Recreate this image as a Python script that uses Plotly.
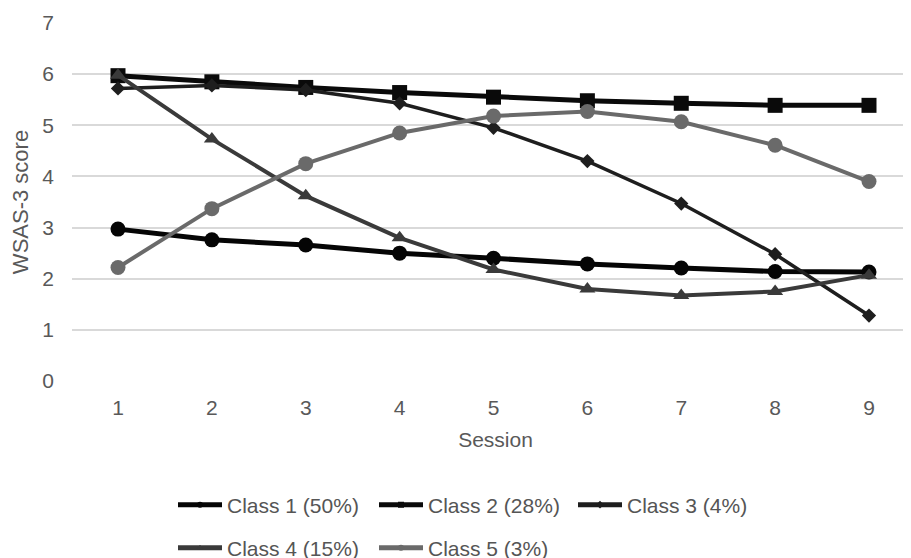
import plotly.graph_objects as go

sessions = [1, 2, 3, 4, 5, 6, 7, 8, 9]
class1 = [2.97, 2.76, 2.66, 2.50, 2.40, 2.29, 2.21, 2.14, 2.13]
class2 = [5.97, 5.85, 5.74, 5.64, 5.55, 5.48, 5.43, 5.39, 5.39]
class3 = [5.72, 5.78, 5.69, 5.43, 4.95, 4.30, 3.47, 2.48, 1.28]
class4 = [5.98, 4.73, 3.62, 2.80, 2.18, 1.80, 1.67, 1.75, 2.07]
class5 = [2.22, 3.37, 4.25, 4.85, 5.18, 5.27, 5.07, 4.61, 3.90]
names = ["Class 1 (50%)", "Class 2 (28%)", "Class 3 (4%)", "Class 4 (15%)", "Class 5 (3%)"]

styles = [
    dict(color="#050505", width=5, symbol="circle", size=15),
    dict(color="#0a0a0a", width=5, symbol="square", size=15),
    dict(color="#1e1e1e", width=3.5, symbol="diamond", size=11),
    dict(color="#3a3a3a", width=4, symbol="triangle-up", size=14),
    dict(color="#6a6a6a", width=4, symbol="circle", size=15),
]

# page has an 8px body margin: work in screen pixels and subtract it
OFF = 8
# legend line start (screen px) and row centre
leg_pos = [(165, 505), (366, 505), (565, 505), (165, 548), (366, 548)]

W, H = 911, 558
L = 72 - OFF
T = 23 - OFF
plot_bottom = 381 - OFF
B = H - plot_bottom
R = 0
pw, ph = W - L - R, H - T - B

font = "Liberation Sans, Arial, sans-serif"
fig = go.Figure()
layout_legends = {}
for data, name, st in zip([class1, class2, class3, class4, class5], names, styles):
    fig.add_trace(go.Scatter(
        x=sessions, y=data, name=name, mode="lines+markers",
        line=dict(color=st["color"], width=st["width"]),
        marker=dict(symbol=st["symbol"], size=st["size"], color=st["color"]),
        showlegend=False,
    ))
for i, (name, st) in enumerate(zip(names, styles)):
    lg = "legend" if i == 0 else f"legend{i + 1}"
    fig.add_trace(go.Scatter(
        x=[None], y=[None], name=name, mode="lines+markers",
        line=dict(color=st["color"], width=5),
        marker=dict(symbol=st["symbol"], size=6, color=st["color"]),
        legend=lg, showlegend=True, hoverinfo="skip",
    ))
    px, py = leg_pos[i]
    px -= OFF
    py -= OFF
    layout_legends[lg] = dict(
        x=(px + 8 - L) / pw, y=-(py - plot_bottom) / ph,
        xanchor="left", yanchor="middle", orientation="h",
        font=dict(family=font, size=21, color="#555555"),
        itemwidth=44, bgcolor="rgba(0,0,0,0)",
    )

# x range: session 1 at screen x=118, session 9 at 869
step = (869 - 118) / 8
x_left = 1 - (118 - 72) / step
x_right = 1 + (W + OFF - 118) / step

fig.update_layout(
    width=W, height=H,
    margin=dict(l=L, r=R, t=T, b=B, autoexpand=False),
    paper_bgcolor="white", plot_bgcolor="white",
    font=dict(family=font, size=21, color="#595959"),
    xaxis=dict(
        range=[x_left, x_right], tickmode="array", tickvals=sessions,
        ticktext=[str(s) for s in sessions],
        showgrid=False, zeroline=False, showline=False,
        ticks="", ticklabelstandoff=12,
        title=dict(text="Session", standoff=14, font=dict(size=21, color="#595959")),
    ),
    yaxis=dict(
        range=[0, 7], tickvals=[0, 1, 2, 3, 4, 5, 6, 7],
        showgrid=True, gridcolor="#d9d9d9", gridwidth=2,
        zeroline=False, showline=False, ticks="", ticklabelstandoff=17,
        title=dict(text="WSAS-3 score", standoff=8, font=dict(size=22, color="#595959")),
    ),
    **layout_legends,
)

fig.write_html("out.html")
